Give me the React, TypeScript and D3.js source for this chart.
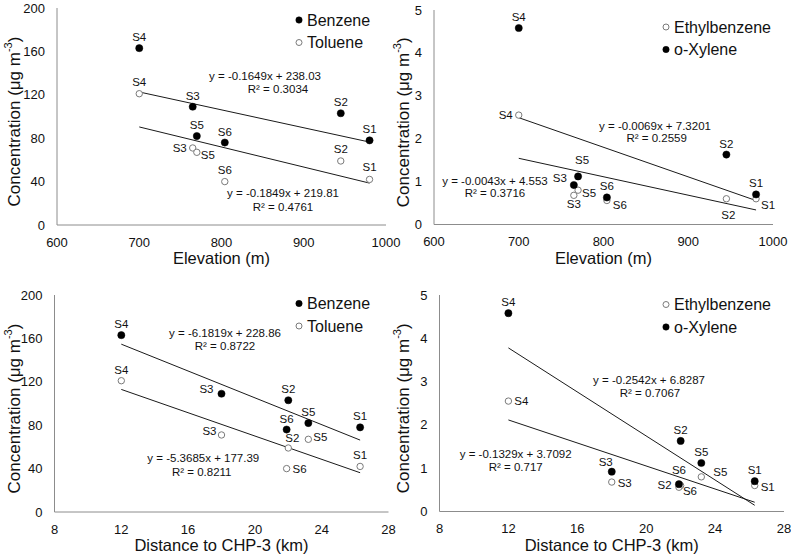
import React from 'react';
import * as d3 from 'd3';

// ---------- data ----------
const sites = ['S1', 'S2', 'S3', 'S4', 'S5', 'S6'];
const elevation = [980, 945, 765, 700, 770, 804];
const distance = [26.3, 22.0, 18.0, 12.0, 23.2, 21.9];
const benzene = [78, 103, 109, 163, 82, 76];
const toluene = [42, 59, 71, 121, 67, 40];
const ethylbenzene = [0.6, 0.6, 0.68, 2.55, 0.8, 0.56];
const oXylene = [0.7, 1.63, 0.92, 4.58, 1.12, 0.63];

const elevTicks = [600, 700, 800, 900, 1000];
const distTicks = [8, 12, 16, 20, 24, 28];
const btTicks = [0, 40, 80, 120, 160, 200];
const exTicks = [0, 1, 2, 3, 4, 5];

// regression fits [slope, intercept, R²]
const fitBenzeneElev = { slope: -0.1649, intercept: 238.03, r2: '0.3034' };
const fitTolueneElev = { slope: -0.1849, intercept: 219.81, r2: '0.4761' };
const fitXyleneElev = { slope: -0.0069, intercept: 7.3201, r2: '0.2559' };
const fitEthylElev = { slope: -0.0043, intercept: 4.553, r2: '0.3716' };
const fitBenzeneDist = { slope: -6.1819, intercept: 228.86, r2: '0.8722' };
const fitTolueneDist = { slope: -5.3685, intercept: 177.39, r2: '0.8211' };
const fitXyleneDist = { slope: -0.2542, intercept: 6.8287, r2: '0.7067' };
const fitEthylDist = { slope: -0.1329, intercept: 3.7092, r2: '0.717' };

// ---------- layout ----------
type Off = [number, number];
const A: Off = [0, -11];

const panels = [
  {
    rect: { l: 57, r: 386, t: 8, b: 225 },
    xs: elevation, xDomain: [600, 1000], xTicks: elevTicks, yDomain: [0, 200], yTicks: btTicks,
    xTitle: 'Elevation (m)', yTitleX: 14,
    legend: { x: 299, y: 20 },
    series: [
      { name: 'Benzene', values: benzene, filled: true, fit: fitBenzeneElev,
        labels: [A, A, A, A, A, A] as Off[],
        eq: [[265, 76], [278, 89]] },
      { name: 'Toluene', values: toluene, filled: false, fit: fitTolueneElev,
        labels: [[0, -12], [0, -12], [-13, 0], [0, -12], [11, 3], [0, -12]] as Off[],
        eq: [[283, 193.3], [283, 206.7]] },
    ],
  },
  {
    rect: { l: 434, r: 773, t: 10, b: 224.5 },
    xs: elevation, xDomain: [600, 1000], xTicks: elevTicks, yDomain: [0, 5], yTicks: exTicks,
    xTitle: 'Elevation (m)', yTitleX: 403,
    legend: { x: 666, y: 27 },
    series: [
      { name: 'Ethylbenzene', values: ethylbenzene, filled: false, fit: fitEthylElev,
        labels: [[12, 6], [2, 16], [0, 9], [-13, 0], [11, 3], [13, 5]] as Off[],
        eq: [[495, 181], [495, 193.3]] },
      { name: 'o-Xylene', values: oXylene, filled: true, fit: fitXyleneElev,
        labels: [A, A, [-14, -7], A, [4, -16], A] as Off[],
        eq: [[655, 126], [656.7, 138.3]] },
    ],
  },
  {
    rect: { l: 54.5, r: 388.5, t: 295, b: 512 },
    xs: distance, xDomain: [8, 28], xTicks: distTicks, yDomain: [0, 200], yTicks: btTicks,
    xTitle: 'Distance to CHP-3 (km)', yTitleX: 14,
    legend: { x: 299, y: 303.5 },
    series: [
      { name: 'Benzene', values: benzene, filled: true, fit: fitBenzeneDist,
        labels: [A, A, [-15, -5], A, A, A] as Off[],
        eq: [[225, 333.3], [225, 346]] },
      { name: 'Toluene', values: toluene, filled: false, fit: fitTolueneDist,
        labels: [A, [4, -10], [-12, -4], A, [12, -2], [13, 0]] as Off[],
        eq: [[203.3, 458.3], [201.7, 472]] },
    ],
  },
  {
    rect: { l: 439.5, r: 784, t: 295, b: 511.5 },
    xs: distance, xDomain: [8, 28], xTicks: distTicks, yDomain: [0, 5], yTicks: exTicks,
    xTitle: 'Distance to CHP-3 (km)', yTitleX: 403,
    legend: { x: 666, y: 304.5 },
    series: [
      { name: 'Ethylbenzene', values: ethylbenzene, filled: false, fit: fitEthylDist,
        labels: [[13, 1], [-16, -1], [13, 1], [13, 0], [19, -5], [11, 4]] as Off[],
        eq: [[515.7, 454.3], [515.7, 466.7]] },
      { name: 'o-Xylene', values: oXylene, filled: true, fit: fitXyleneDist,
        labels: [A, A, [-6, -10], A, A, [0, -14]] as Off[],
        eq: [[649, 380], [650, 392.7]] },
    ],
  },
];

const FONT = '"Liberation Sans", Arial, Helvetica, sans-serif';
const TEXT = '#111';
const AXIS = '#8c8c8c';
const OPEN = '#7a7a7a';

function Panel({ p }: { p: (typeof panels)[number] }) {
  const { rect } = p;
  const x = d3.scaleLinear().domain(p.xDomain).range([rect.l, rect.r]);
  const y = d3.scaleLinear().domain(p.yDomain).range([rect.b, rect.t]);
  const xmin = d3.min(p.xs) as number;
  const xmax = d3.max(p.xs) as number;
  const line = d3.line<number>().x((d) => x(d[0])).y((d) => y(d[1]));
  const midY = (rect.t + rect.b) / 2 + 5;
  const midX = (rect.l + rect.r) / 2;
  return (
    <g fontFamily={FONT} fill={TEXT}>
      {/* axes */}
      <line x1={rect.l} x2={rect.l} y1={rect.t} y2={rect.b} stroke={AXIS} strokeWidth={1} />
      <line x1={rect.l} x2={rect.r} y1={rect.b} y2={rect.b} stroke={AXIS} strokeWidth={1} />
      {p.yTicks.map((t) => (
        <text key={'y' + t} x={rect.l - 12} y={y(t)} textAnchor="end" dominantBaseline="central" fontSize={13}>
          {t}
        </text>
      ))}
      {p.xTicks.map((t) => (
        <text key={'x' + t} x={x(t)} y={rect.b + 17} textAnchor="middle" dominantBaseline="central" fontSize={13}>
          {t}
        </text>
      ))}
      <text x={midX} y={rect.b + 33} textAnchor="middle" dominantBaseline="central" fontSize={16.5}>
        {p.xTitle}
      </text>
      <text
        transform={`translate(${p.yTitleX},${midY}) rotate(-90)`}
        textAnchor="middle"
        dominantBaseline="central"
        fontSize={17}
      >
        Concentration (μg m<tspan dy={-6} fontSize={11}>-3</tspan>
        <tspan dy={6}>)</tspan>
      </text>
      {/* trend lines */}
      {p.series.map((s) => {
        const f = s.fit;
        const pts: [number, number][] = [xmin, xmax].map((v) => [v, f.slope * v + f.intercept]);
        return <path key={'l' + s.name} d={line(pts as any) as string} stroke="#1a1a1a" strokeWidth={1} fill="none" />;
      })}
      {/* points */}
      {p.series.map((s) =>
        s.values.map((v, i) => (
          <circle
            key={s.name + i}
            cx={x(p.xs[i])}
            cy={y(v)}
            r={s.filled ? 3.6 : 3.2}
            fill={s.filled ? '#000' : '#fff'}
            stroke={s.filled ? '#000' : OPEN}
            strokeWidth={s.filled ? 0.5 : 1}
          />
        ))
      )}
      {/* point labels */}
      {p.series.map((s) =>
        s.values.map((v, i) => (
          <text
            key={'t' + s.name + i}
            x={x(p.xs[i]) + s.labels[i][0]}
            y={y(v) + s.labels[i][1]}
            textAnchor="middle"
            dominantBaseline="central"
            fontSize={11.5}
          >
            {sites[i]}
          </text>
        ))
      )}
      {/* equations */}
      {p.series.map((s) => (
        <g key={'e' + s.name} fontSize={11.5}>
          <text x={s.eq[0][0]} y={s.eq[0][1]} textAnchor="middle" dominantBaseline="central">
            {`y = ${s.fit.slope}x + ${s.fit.intercept}`}
          </text>
          <text x={s.eq[1][0]} y={s.eq[1][1]} textAnchor="middle" dominantBaseline="central">
            {`R² = ${s.fit.r2}`}
          </text>
        </g>
      ))}
      {/* legend */}
      {p.series.map((s, i) => (
        <g key={'lg' + s.name} transform={`translate(${p.legend.x},${p.legend.y + i * 22.5})`}>
          <circle
            r={s.filled ? 3.2 : 3}
            fill={s.filled ? '#000' : '#fff'}
            stroke={s.filled ? '#000' : OPEN}
            strokeWidth={s.filled ? 0.5 : 1}
          />
          <text x={8} dominantBaseline="central" fontSize={16}>
            {s.name}
          </text>
        </g>
      ))}
    </g>
  );
}

export default function App() {
  return (
    <svg
      width={791}
      height={557}
      style={{ position: 'absolute', left: 0, top: 0, background: '#fff' }}
    >
      <rect width={791} height={557} fill="#fff" />
      {panels.map((p, i) => (
        <Panel key={i} p={p} />
      ))}
    </svg>
  );
}
